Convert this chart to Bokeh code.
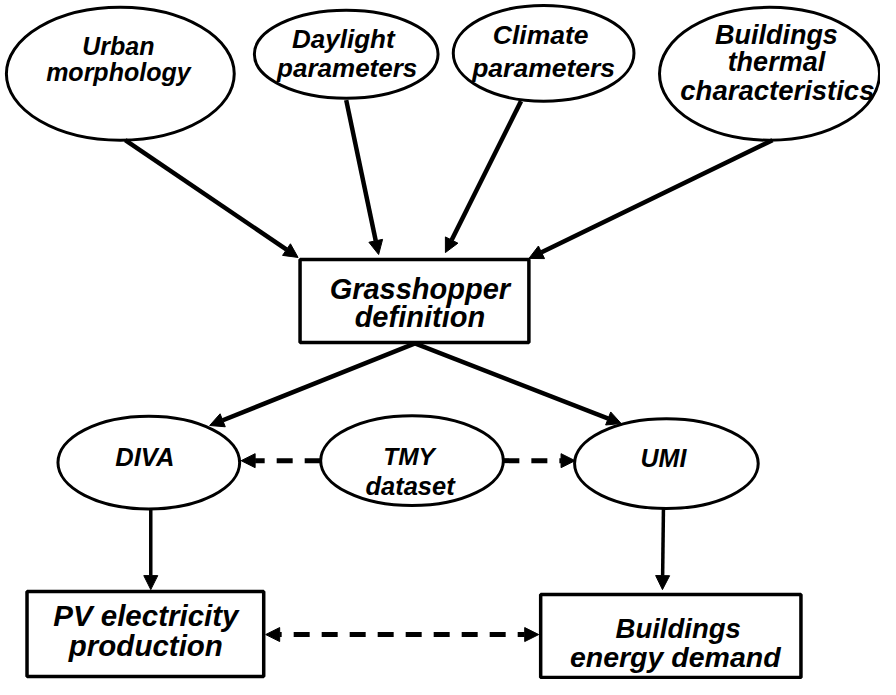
from bokeh.plotting import figure
from bokeh.models import Range1d, Arrow, NormalHead, ColumnDataSource
from bokeh.core.properties import value
from bokeh.embed import file_html
from bokeh.resources import INLINE

# ---- nodes (reference pixel coordinates) ----
ell_x = [122, 352, 553, 783, 151, 419, 678]
ell_y = [75, 55, 54, 75, 473, 471, 474]
ell_w = [232, 187, 184, 224, 185, 186, 187]
ell_h = [136, 90, 98, 136, 95, 92, 92]

box_left = [305, 27, 550]
box_right = [538, 268, 815]
box_top = [265, 605, 608]
box_bottom = [350, 692, 693]

# ---- labels: text, x, baseline y, font size ----
lab_text = ["Urban", "morphology", "Daylight", "parameters", "Climate", "parameters",
            "Buildings", "thermal", "characteristics", "Grasshopper", "definition",
            "DIVA", "TMY", "dataset", "UMI", "PV electricity", "production",
            "Buildings", "energy demand"]
lab_x = [120, 120, 349, 353, 550, 553, 790, 790, 791, 427, 427,
         147, 416, 417, 675, 148, 148, 690, 687]
lab_y = [55, 81, 47, 77, 43, 77, 43, 71, 100, 303, 332,
         475, 475, 505, 476, 637, 668, 651, 680]
lab_size = ["25px", "25px", "26px", "26px", "26.5px", "26.5px", "27px", "27px", "27.5px",
            "29px", "29px", "25.5px", "24.5px", "25.5px", "25px", "29.5px", "29.5px",
            "27.5px", "28.5px"]
text_shift = -8

# ---- arrows: start, end, style ----
arr_x0 = [127, 352, 530, 786, 422, 422, 153, 675]
arr_y0 = [143, 102, 103, 143, 351, 351, 520, 520]
arr_x1 = [303, 385, 453, 538, 213, 632, 153, 674]
arr_y1 = [263, 260, 258, 264, 435, 433, 603, 603]
arr_w = [4.5, 4.5, 4.5, 4.5, 4.5, 4.5, 3.5, 3.5]

dash_x0 = [326, 512]
dash_y0 = [471, 471]
dash_x1 = [245, 585]
dash_y1 = [471, 471]

dbl_x = [270, 548]
dbl_y = [649, 649]

p = figure(width=880, height=679, x_range=Range1d(0, 896), y_range=Range1d(695, 0),
           output_backend="svg", toolbar_location=None, min_border=0)
p.axis.visible = False
p.grid.visible = False
p.outline_line_color = None
p.background_fill_color = "white"

for i in range(len(arr_x0)):
    p.add_layout(Arrow(end=NormalHead(size=14, fill_color="black", line_color="black"),
                       x_start=arr_x0[i], y_start=arr_y0[i], x_end=arr_x1[i], y_end=arr_y1[i],
                       line_width=arr_w[i], line_color="black"))

for i in range(len(dash_x0)):
    p.add_layout(Arrow(end=NormalHead(size=14, fill_color="black", line_color="black"),
                       x_start=dash_x0[i], y_start=dash_y0[i], x_end=dash_x1[i], y_end=dash_y1[i],
                       line_width=5, line_color="black", line_dash="16 12"))

p.add_layout(Arrow(start=NormalHead(size=14, fill_color="black", line_color="black"),
                   end=NormalHead(size=14, fill_color="black", line_color="black"),
                   x_start=dbl_x[0], y_start=dbl_y[0], x_end=dbl_x[1], y_end=dbl_y[1],
                   line_width=5, line_color="black", line_dash="16 12"))

p.ellipse(x=ell_x, y=ell_y, width=ell_w, height=ell_h, fill_color="white",
          line_color="black", line_width=3)
p.quad(left=box_left, right=box_right, top=box_top, bottom=box_bottom,
       fill_color="white", line_color="black", line_width=3.5)

src = ColumnDataSource(dict(x=lab_x, y=[v + text_shift for v in lab_y], t=lab_text, s=lab_size))
p.text(x="x", y="y", text="t", source=src, text_font_size="s",
       text_font=value("Liberation Sans"), text_font_style="bold italic",
       text_align="center", text_baseline="alphabetic", text_color="black")

open("out.html", "w").write(file_html(p, INLINE))
